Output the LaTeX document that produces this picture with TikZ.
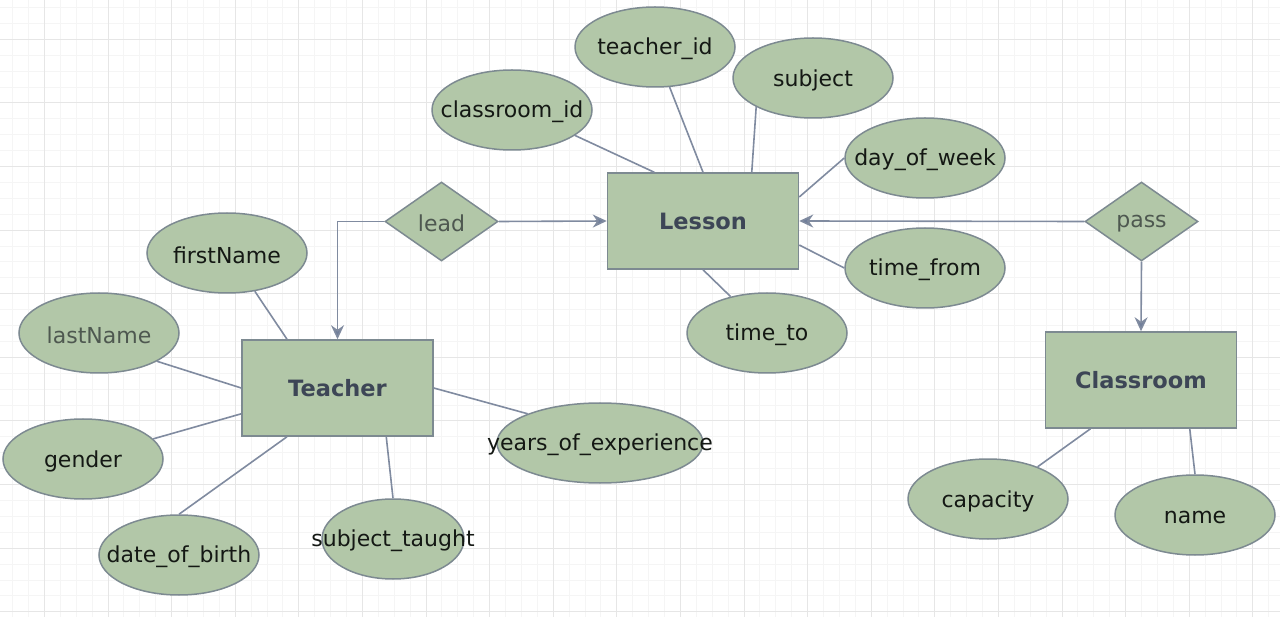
\documentclass[tikz,border=0pt]{standalone}
\usepackage{fontspec}
\setmainfont{DejaVu Sans}
\usetikzlibrary{shapes.geometric,arrows.meta}
\definecolor{erfill}{RGB}{178,199,168}
\definecolor{erborder}{RGB}{125,138,145}
\definecolor{erline}{RGB}{128,139,160}
\definecolor{erarrow}{RGB}{112,126,154}
\definecolor{enttext}{RGB}{61,70,86}
\definecolor{reltext}{RGB}{78,88,80}
\definecolor{attrtext}{RGB}{20,24,20}
\definecolor{gridminor}{RGB}{245,245,245}
\definecolor{gridmajor}{RGB}{230,230,230}
\begin{document}
\begin{tikzpicture}[x=1pt,y=-1pt,
  txt/.style={font=\fontsize{22}{26}\selectfont},
  attr/.style={ellipse, draw=erborder, fill=erfill, line width=1.5pt,
    minimum width=160pt, minimum height=80pt, inner sep=0pt},
  alabel/.style={txt, text=attrtext, inner sep=0pt, yshift=-2pt},
  glabel/.style={txt, text=reltext, inner sep=0pt, yshift=-2pt},
  entity/.style={rectangle, draw=erborder, fill=erfill, line width=1.5pt,
    minimum width=191pt, minimum height=96pt, inner sep=0pt,
    font=\fontsize{22.5}{26}\selectfont\bfseries, text=enttext},
  relation/.style={diamond, draw=erborder, fill=erfill, line width=1.5pt,
    minimum width=113pt, minimum height=79pt, inner sep=0pt},
  link/.style={draw=erline, line width=1.6pt},
  relarrow/.style={draw=erline, line width=1.6pt,
    -{Stealth[length=14pt,width=13pt,inset=4.5pt,fill=erarrow]}}
]
\useasboundingbox (0,0) rectangle (1280,617);
\fill[white] (0,0) rectangle (1280,617);
% grid
\foreach \i in {0,...,80} {\draw[gridminor, line width=0.8pt] ({12.5+15.9*\i},0) -- ++(0,617);}
\foreach \j in {0,...,38} {\draw[gridminor, line width=0.8pt] (0,{7.5+15.9*\j}) -- ++(1280,0);}
\foreach \k in {0,...,19} {\draw[gridmajor, line width=0.8pt] ({44.3+63.6*\k},0) -- ++(0,617);}
\foreach \k in {0,...,9} {\draw[gridmajor, line width=0.8pt] (0,{39.3+63.6*\k}) -- ++(1280,0);}

% entities
\node[entity] (Teacher) at (337.5,388) {\raisebox{-2pt}{Teacher}};
\node[entity] (Lesson) at (703,221) {\raisebox{-2pt}{Lesson}};
\node[entity] (Classroom) at (1141,380) {\raisebox{-2pt}{Classroom}};

% relations
\node[relation, label={[glabel]center:lead}] (lead) at (441.5,221.5) {};
\node[relation, label={[glabel]center:pass}] (pass) at (1141.5,221.5) {};

% attributes of Lesson
\node[attr, label={[alabel]center:teacher\_id}] (teacherid) at (655,47) {};
\node[attr, label={[alabel]center:subject}] (subject) at (813,78) {};
\node[attr, label={[alabel]center:classroom\_id}] (classroomid) at (512,110) {};
\node[attr, label={[alabel]center:day\_of\_week}] (dayofweek) at (925,158) {};
\node[attr, label={[alabel]center:time\_from}] (timefrom) at (925,268) {};
\node[attr, label={[alabel]center:time\_to}] (timeto) at (767,333) {};

% attributes of Teacher
\node[attr, label={[alabel]center:firstName}] (firstName) at (227,253) {};
\node[attr, label={[glabel]center:lastName}] (lastName) at (99,333) {};
\node[attr, label={[alabel]center:gender}] (gender) at (83,459) {};
\node[attr, label={[alabel]center:date\_of\_birth}] (dob) at (179,555) {};
\node[attr, minimum width=142pt, label={[alabel]center:subject\_taught}] (subjtaught) at (393,539) {};
\node[attr, minimum width=206pt, label={[alabel]center:years\_of\_experience}] (yoe) at (600,443) {};

% attributes of Classroom
\node[attr, label={[alabel]center:capacity}] (capacity) at (988,499) {};
\node[attr, label={[alabel]center:name}] (cname) at (1195,515) {};

% attribute links
\draw[link] (classroomid.-22) -- (Lesson.135);
\draw[link] (teacherid.-70) -- (Lesson.north);
\draw[link] (subject.207) -- (Lesson.45.6);
\draw[link] (dayofweek.west) -- (Lesson.14);
\draw[link] (timefrom.west) -- (Lesson.-14);
\draw[link] (timeto.135) -- (Lesson.south);

\draw[link] (firstName.-54) -- (Teacher.136);
\draw[link] (lastName.-26) -- (Teacher.west);
\draw[link] (gender.16.7) -- (Teacher.-165);
\draw[link] (dob.north) -- (Teacher.224);
\draw[link] (subjtaught.north) -- (Teacher.-45.3);
\draw[link] (yoe.158) -- (Teacher.east);

\draw[link] (capacity.33) -- (Classroom.224.4);
\draw[link] (cname.north) -- (Classroom.-45.6);

% relationship arrows
\draw[relarrow] (lead.east) -- (Lesson.west);
\draw[relarrow] (lead.west) -| (Teacher.north);
\draw[relarrow] (pass.west) -- (Lesson.east);
\draw[relarrow] (pass.south) -- (Classroom.north);
\end{tikzpicture}
\end{document}
